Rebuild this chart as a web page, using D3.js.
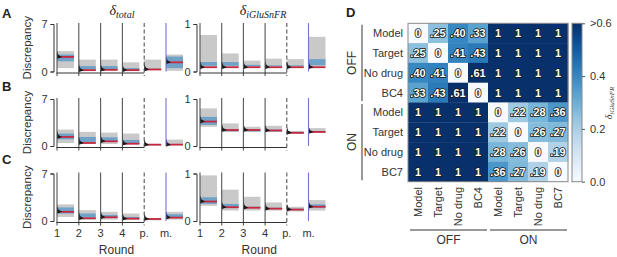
<!DOCTYPE html>
<html><head><meta charset="utf-8">
<script src="https://cdn.jsdelivr.net/npm/d3@7"></script>
<style>body{margin:0;background:#fff}svg{display:block;font-family:"Liberation Sans",Arial,sans-serif}</style>
</head><body><svg id="c" width="617" height="257"></svg>
<script>
// ---------- DATA ----------
const rounds = ["1","2","3","4","p.","m."];
// Row A
const A_tot_grayLo = [0.5, 0.1, 0.1, 0.1, 0.2, 0.1];
const A_tot_grayHi = [3.0, 1.75, 1.75, 1.35, 1.75, 2.5];
const A_tot_blueLo = [1.5, 0.3, 0.3, 0.2, 0.25, 0.5];
const A_tot_blueHi = [2.5, 0.8, 0.8, 0.5, 0.4, 2.2];
const A_tot_med    = [2.15, 0.2, 0.25, 0.2, 0.3, 1.35];
const A_glu_grayLo = [0.1, 0.1, 0.1, 0.1, 0.1, 0.1];
const A_glu_grayHi = [0.77, 0.38, 0.23, 0.27, 0.26, 0.73];
const A_glu_blueLo = [0.12, 0.12, 0.11, 0.11, 0.11, 0.13];
const A_glu_blueHi = [0.2, 0.2, 0.14, 0.13, 0.13, 0.26];
const A_glu_med    = [0.09, 0.09, 0.09, 0.09, 0.09, 0.09];
// Row B
const B_tot_grayLo = [0.45, 0.3, 0.3, 0.2, 0.1, 0.15];
const B_tot_grayHi = [2.45, 2.1, 2.0, 1.85, 0.3, 0.95];
const B_tot_blueLo = [1.0, 0.6, 0.6, 0.3, 0.15, 0.15];
const B_tot_blueHi = [1.85, 1.35, 1.3, 0.9, 0.25, 0.3];
const B_tot_med    = [1.35, 0.45, 0.7, 0.35, 0.2, 0.2];
const B_glu_grayLo = [0.41, 0.3, 0.3, 0.3, 0.26, 0.28];
const B_glu_grayHi = [0.8, 0.48, 0.41, 0.43, 0.32, 0.38];
const B_glu_blueLo = [0.45, 0.31, 0.31, 0.31, 0.27, 0.29];
const B_glu_blueHi = [0.62, 0.36, 0.36, 0.35, 0.3, 0.32];
const B_glu_med    = [0.52, 0.34, 0.34, 0.33, 0.28, 0.3];
// Row C
const C_tot_grayLo = [0.6, 0.2, 0.2, 0.15, 0.1, 0.2];
const C_tot_grayHi = [2.45, 1.6, 1.35, 1.1, 0.35, 1.35];
const C_tot_blueLo = [1.1, 0.5, 0.5, 0.3, 0.15, 0.5];
const C_tot_blueHi = [2.0, 1.1, 0.9, 0.6, 0.3, 1.0];
const C_tot_med    = [1.35, 0.4, 0.55, 0.35, 0.3, 0.5];
const C_glu_grayLo = [0.32, 0.22, 0.22, 0.22, 0.2, 0.22];
const C_glu_grayHi = [0.96, 0.66, 0.51, 0.39, 0.3, 0.44];
const C_glu_blueLo = [0.36, 0.28, 0.27, 0.25, 0.23, 0.28];
const C_glu_blueHi = [0.5, 0.36, 0.3, 0.28, 0.26, 0.35];
const C_glu_med    = [0.41, 0.29, 0.28, 0.26, 0.24, 0.3];

// Heatmap
const hmRows = ["Model","Target","No drug","BC4","Model","Target","No drug","BC7"];
const hmCols = ["Model","Target","No drug","BC4","Model","Target","No drug","BC7"];
const hmGroups = ["OFF","ON"];
const hmValues = [
  [0, .25, .40, .33, 1, 1, 1, 1],
  [.25, 0, .41, .43, 1, 1, 1, 1],
  [.40, .41, 0, .61, 1, 1, 1, 1],
  [.33, .43, .61, 0, 1, 1, 1, 1],
  [1, 1, 1, 1, 0, .22, .28, .36],
  [1, 1, 1, 1, .22, 0, .26, .27],
  [1, 1, 1, 1, .28, .26, 0, .19],
  [1, 1, 1, 1, .36, .27, .19, 0]
];
const cbTicks = [0, 0.2, 0.4, 0.6];
const cbTickLabels = ["0.0","0.2","0.4",">0.6"];

// ---------- DRAW ----------
const svg = d3.select("#c");
const txt = "#333";

const panels = [
  {row:"A", col:0, d:[A_tot_grayLo,A_tot_grayHi,A_tot_blueLo,A_tot_blueHi,A_tot_med]},
  {row:"A", col:1, d:[A_glu_grayLo,A_glu_grayHi,A_glu_blueLo,A_glu_blueHi,A_glu_med]},
  {row:"B", col:0, d:[B_tot_grayLo,B_tot_grayHi,B_tot_blueLo,B_tot_blueHi,B_tot_med]},
  {row:"B", col:1, d:[B_glu_grayLo,B_glu_grayHi,B_glu_blueLo,B_glu_blueHi,B_glu_med]},
  {row:"C", col:0, d:[C_tot_grayLo,C_tot_grayHi,C_tot_blueLo,C_tot_blueHi,C_tot_med]},
  {row:"C", col:1, d:[C_glu_grayLo,C_glu_grayHi,C_glu_blueLo,C_glu_blueHi,C_glu_med]}
];
const rowRange = {A:[71.5,24], B:[146,99], C:[221,173.5]};
const colRange = [[57,166],[200,308.5]];
const colDomain = [[0,7],[0,1]];
const barW = 17;

panels.forEach(p => {
  const xs = d3.scalePoint().domain(rounds).range(colRange[p.col]);
  const ys = d3.scaleLinear().domain(colDomain[p.col]).range(rowRange[p.row]);
  const g = svg.append("g");
  const [gl, gh, bl, bh, md] = p.d;
  const axY = ys(0) + 1.5;
  // gray
  g.selectAll(".gr").data(rounds).join("rect")
    .attr("x", d => xs(d)).attr("width", barW)
    .attr("y", (d,i) => ys(gh[i])).attr("height", (d,i) => ys(gl[i]) - ys(gh[i]))
    .attr("fill", "#c9c9c9");
  // blue
  g.selectAll(".bl").data(rounds).join("rect")
    .attr("x", d => xs(d)).attr("width", barW)
    .attr("y", (d,i) => ys(bh[i])).attr("height", (d,i) => Math.max(0.8, ys(bl[i]) - ys(bh[i])))
    .attr("fill", "#5f9bc6").attr("opacity", 0.85);
  // red median
  g.selectAll(".md").data(rounds).join("line")
    .attr("x1", d => xs(d)).attr("x2", d => xs(d) + barW)
    .attr("y1", (d,i) => ys(md[i])).attr("y2", (d,i) => ys(md[i]))
    .attr("stroke", "#c6283f").attr("stroke-width", 1.8);
  // small distribution marker
  g.selectAll(".mk").data(rounds).join("path")
    .attr("d", (d,i) => {
      const x = xs(d), y = ys(md[i]);
      return `M${x},${y-6} L${x+1.5},${y-2} L${x+5},${y} L${x+1},${y+1.5} L${x},${y+2} Z`;
    })
    .attr("fill", "#1a1a1a");
  // vertical lines
  g.selectAll(".vl").data(rounds).join("line")
    .attr("x1", d => xs(d)).attr("x2", d => xs(d))
    .attr("y1", ys.range()[1] - 1)
    .attr("y2", (d,i) => i === 5 ? ys(0) : axY + 3)
    .attr("stroke", (d,i) => i === 5 ? "#7373d2" : "#555")
    .attr("stroke-width", 1.1)
    .attr("stroke-dasharray", (d,i) => i === 4 ? "4,2.5" : null);
  // x axis line
  g.append("line").attr("x1", xs(rounds[0]) - 0.5).attr("x2", xs(rounds[4]))
    .attr("y1", axY).attr("y2", axY).attr("stroke", "#333").attr("stroke-width", 1);
  // y axis
  const ya = g.append("g").attr("transform", `translate(${xs(rounds[0]) - 3.5},0)`)
    .call(d3.axisLeft(ys).tickValues(colDomain[p.col]).tickSize(3).tickSizeOuter(3).tickPadding(3).tickFormat(d3.format("d")));
  ya.selectAll("path,line").attr("stroke", "#333");
  ya.selectAll("text").attr("font-size", 11).attr("fill", txt).attr("font-family", "Liberation Sans, Arial, sans-serif");
  if (p.row === "C") {
    g.selectAll(".xl").data(rounds).join("text")
      .attr("x", d => xs(d)).attr("y", 237).attr("text-anchor", "middle")
      .attr("font-size", 11).attr("fill", txt).text(d => d);
    g.append("text").attr("x", (colRange[p.col][0] + colRange[p.col][1]) / 2 + 5).attr("y", 254)
      .attr("text-anchor", "middle").attr("font-size", 12).attr("fill", txt).text("Round");
  }
  if (p.col === 0) {
    const cy = (rowRange[p.row][0] + rowRange[p.row][1]) / 2;
    svg.append("text").attr("transform", `translate(31,${cy}) rotate(-90)`)
      .attr("text-anchor", "middle").attr("font-size", 11.5).attr("fill", txt).text("Discrepancy");
  }
});

// panel letters
const letters = [["A", 2, 18], ["B", 2, 91], ["C", 2, 164], ["D", 346, 17]];
letters.forEach(([t, x, y]) => svg.append("text").attr("x", x).attr("y", y)
  .attr("font-size", 13).attr("font-weight", "bold").attr("fill", "#222").text(t));

// titles
function deltaTitle(x, y, sub, fs, sfs) {
  const t = svg.append("text").attr("x", x).attr("y", y).attr("text-anchor", "middle")
    .attr("font-family", "Liberation Serif, Times New Roman, serif").attr("font-style", "italic")
    .attr("fill", "#222").attr("font-size", fs);
  t.append("tspan").text("δ");
  t.append("tspan").attr("font-size", sfs).attr("dy", 3).text(sub);
  return t;
}
deltaTitle(122, 15, "total", 14, 10);
deltaTitle(263, 15, "iGluSnFR", 14, 10);

// ---------- HEATMAP ----------
const hx = d3.scaleBand().domain(d3.range(8)).range([408, 568]);
const hy = d3.scaleBand().domain(d3.range(8)).range([23.3, 181.7]);
const color = d3.scaleSequential(d3.interpolateBlues).domain([0, 0.6]).clamp(true);
const hg = svg.append("g");
hmValues.forEach((row, r) => {
  hg.selectAll(null).data(row).join("rect")
    .attr("x", (v, c) => hx(c)).attr("y", hy(r))
    .attr("width", hx.bandwidth() + 0.3).attr("height", hy.bandwidth() + 0.3)
    .attr("fill", v => color(v));
  hg.selectAll(null).data(row).join("text")
    .attr("x", (v, c) => hx(c) + hx.bandwidth() / 2).attr("y", hy(r) + hy.bandwidth() / 2 + 4)
    .attr("text-anchor", "middle").attr("font-size", 11).attr("font-weight", "bold")
    .attr("fill", "#fff").attr("stroke", "#1a1a1a").attr("stroke-width", 1.6)
    .attr("paint-order", "stroke")
    .text(v => v === 0 ? "0" : v === 1 ? "1" : d3.format(".2f")(v).replace(/^0/, ""));
});
hg.append("rect").attr("x", 408).attr("y", 23.3).attr("width", 160).attr("height", 158.4)
  .attr("fill", "none").attr("stroke", "#888").attr("stroke-width", 1);

// row labels
svg.selectAll(".rl").data(hmRows).join("text")
  .attr("x", 403).attr("y", (d, i) => hy(i) + hy.bandwidth() / 2 + 4)
  .attr("text-anchor", "end").attr("font-size", 11).attr("fill", txt).text(d => d);
// col labels
svg.selectAll(".cl").data(hmCols).join("text")
  .attr("transform", (d, i) => `translate(${hx(i) + hx.bandwidth() / 2 + 4},187) rotate(-90)`)
  .attr("text-anchor", "end").attr("font-size", 11).attr("fill", txt).text(d => d);
// group brackets left
hmGroups.forEach((g, k) => {
  const y0 = hy(k * 4) + 1.5, y1 = hy(k * 4 + 3) + hy.bandwidth() - 1.5;
  svg.append("line").attr("x1", 362).attr("x2", 362).attr("y1", y0).attr("y2", y1)
    .attr("stroke", "#777").attr("stroke-width", 1.5);
  svg.append("text").attr("transform", `translate(356,${(y0 + y1) / 2}) rotate(-90)`)
    .attr("text-anchor", "middle").attr("font-size", 12).attr("fill", txt).text(g);
  const x0 = hx(k * 4) + 2, x1 = hx(k * 4 + 3) + hx.bandwidth() - 1;
  svg.append("line").attr("x1", x0).attr("x2", x1).attr("y1", 230).attr("y2", 230)
    .attr("stroke", "#777").attr("stroke-width", 1.5);
  svg.append("text").attr("x", (x0 + x1) / 2).attr("y", 244).attr("text-anchor", "middle")
    .attr("font-size", 12).attr("fill", txt).text(g);
});

// colorbar
const cbY = d3.scaleLinear().domain([0, 0.6]).range([181.7, 23.3]);
const defs = svg.append("defs");
const grad = defs.append("linearGradient").attr("id", "cbg").attr("x1", 0).attr("x2", 0).attr("y1", 1).attr("y2", 0);
d3.range(0, 1.0001, 0.1).forEach(t => grad.append("stop").attr("offset", t).attr("stop-color", color(t * 0.6)));
svg.append("rect").attr("x", 572).attr("y", 23.3).attr("width", 10).attr("height", 158.4)
  .attr("fill", "url(#cbg)").attr("stroke", "#888").attr("stroke-width", 1);
const cba = svg.append("g").attr("transform", "translate(582,0)")
  .call(d3.axisRight(cbY).tickValues(cbTicks).tickSize(3).tickPadding(5).tickFormat((d, i) => cbTickLabels[i]));
cba.select(".domain").remove();
cba.selectAll("line").attr("stroke", "#555");
cba.selectAll("text").attr("font-size", 11).attr("fill", txt).attr("font-family", "Liberation Sans, Arial, sans-serif");
const cbl = svg.append("text").attr("transform", "translate(612,103) rotate(-90)")
  .attr("text-anchor", "middle").attr("font-family", "Liberation Serif, serif").attr("font-style", "italic")
  .attr("fill", "#333").attr("font-size", 10);
cbl.append("tspan").text("δ");
cbl.append("tspan").attr("font-size", 7).attr("dy", 2).text("iGluSnFR");
</script></body></html>
